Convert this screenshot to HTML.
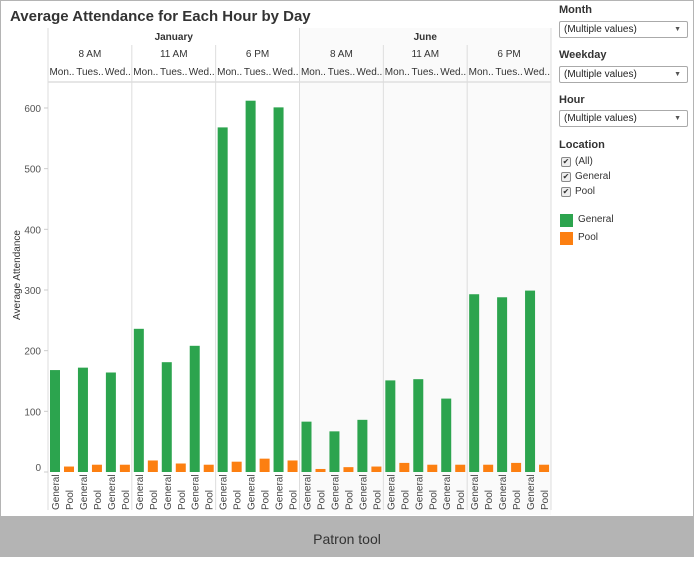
<!DOCTYPE html>
<html><head><meta charset="utf-8">
<style>
body{margin:0;width:694px;height:557px;overflow:hidden;background:#fff;font-family:"Liberation Sans",sans-serif;}
#frame{position:absolute;left:0;top:0;width:692px;height:515px;border:1px solid #b4b4b4;background:#fff;}
#footer{position:absolute;left:0;top:516px;width:694px;height:41px;background:#b4b4b4;color:#333;font-size:14px;text-align:center;line-height:46px;}
.side{position:absolute;left:559px;font-size:11px;color:#333;}
.lbl{font-weight:bold;font-size:11px;}
.dd{position:absolute;left:559px;width:123px;height:15px;border:1px solid #aaa;border-radius:2px;font-size:10px;line-height:15px;padding-left:4px;box-sizing:content-box;color:#222;background:#fff}
.dd span{position:absolute;right:6px;top:0;font-size:7px;color:#555}
.cb{position:absolute;left:561px;font-size:10px;color:#333}
.cb i{display:inline-block;width:8px;height:8px;border:1px solid #888;border-radius:2px;font-style:normal;font-size:8px;line-height:8px;text-align:center;margin-right:4px;background:#eee}
</style></head><body>
<div id="frame"></div>
<svg id="chart" width="694" height="557" style="position:absolute;left:0;top:0"></svg>
<div class="side lbl" style="top:4px">Month</div>
<div class="dd" style="top:21px">(Multiple values)<span>▼</span></div>
<div class="side lbl" style="top:49px">Weekday</div>
<div class="dd" style="top:66px">(Multiple values)<span>▼</span></div>
<div class="side lbl" style="top:94px">Hour</div>
<div class="dd" style="top:110px">(Multiple values)<span>▼</span></div>
<div class="side lbl" style="top:139px">Location</div>
<div class="cb" style="top:156px"><i>✔</i>(All)</div>
<div class="cb" style="top:171px"><i>✔</i>General</div>
<div class="cb" style="top:186px"><i>✔</i>Pool</div>
<div style="position:absolute;left:560px;top:214px;width:13px;height:13px;background:#2ca44e"></div>
<div class="cb" style="top:214px;left:578px">General</div>
<div style="position:absolute;left:560px;top:232px;width:13px;height:13px;background:#fc7f11"></div>
<div class="cb" style="top:232px;left:578px">Pool</div>
<div id="footer">Patron tool</div>
<script>
const months=["January","June"];
const hours=["8 AM","11 AM","6 PM"];
const days=["Mon..","Tues..","Wed.."];
const generalVals=[168,172,164,236,181,208,568,612,601,83,67,86,151,153,121,293,288,299];
const poolVals=[9,12,12,19,14,12,17,22,19,5,8,9,15,12,12,12,15,12];
const yTicks=[0,100,200,300,400,500,600];
const NS="http://www.w3.org/2000/svg";
const svg=document.getElementById('chart');
function mk(t,a,txt){const e=document.createElementNS(NS,t);for(const k in a)e.setAttribute(k,a[k]);if(txt!==undefined)e.textContent=txt;svg.appendChild(e);return e;}
const X0=48,X1=551,Y0=472,PT=82;
const y=v=>Y0-v*0.6067;
const panelW=(X1-X0)/6, dayW=panelW/3;
let e;
e=mk('rect',{x:300,y:28,width:251,height:487,fill:'#fafafa'});


e=mk('text',{x:10,y:21,'font-size':15,'font-weight':'bold',fill:'#333'},'Average Attendance for Each Hour by Day');


e=mk('line',{x1:X0,x2:X1,y1:PT,y2:PT,stroke:'#e6e6e6','stroke-width':2});


for(let p=0;p<=6;p++){
  const x=X0+p*panelW;
  e=mk('line',{x1:x,x2:x,y1:(p%3==0?28:45),y2:510,stroke:'#ddd','stroke-width':1});
  
  
}
months.forEach((m,mi)=>{
  e=mk('text',{x:X0+(mi*3+1.5)*panelW,y:40,'font-size':10,'font-weight':'bold','text-anchor':'middle',fill:'#333'},m);
  
  
  hours.forEach((h,hi)=>{
    const px=X0+(mi*3+hi)*panelW;
    e=mk('text',{x:px+panelW/2,y:57,'font-size':10,'text-anchor':'middle',fill:'#333'},h);
    
    
    days.forEach((d,di)=>{
      e=mk('text',{x:px+(di+0.5)*dayW,y:75,'font-size':10,'text-anchor':'middle',fill:'#333'},d);
      
      
    });
  });
});
yTicks.forEach(t=>{
  e=mk('text',{x:41,y:y(t)+4-(t==0?5:0),'font-size':10,'text-anchor':'end',fill:'#555'},t);
  
  
  e=mk('line',{x1:44,x2:48,y1:y(t),y2:y(t),stroke:'#ccc'});
  
  
});
e=mk('text',{x:0,y:0,'font-size':10,fill:'#333','text-anchor':'middle',transform:'translate(20,275) rotate(-90)'},'Average Attendance');


generalVals.forEach((v,i)=>{
  const bx=X0+i*dayW;
  e=mk('rect',{x:bx+2,y:y(v),width:10,height:Y0-y(v),fill:'#2ca44e'});
  
  
  const pv=poolVals[i];
  e=mk('rect',{x:bx+16,y:y(pv),width:10,height:Y0-y(pv),fill:'#fc7f11'});
  
  
  e=mk('text',{x:0,y:0,'font-size':10,fill:'#444',transform:`translate(${bx+11},510) rotate(-90)`},'General');
  
  
  e=mk('text',{x:0,y:0,'font-size':10,fill:'#444',transform:`translate(${bx+25},510) rotate(-90)`},'Pool');
  
  
});
</script>
</body></html>
